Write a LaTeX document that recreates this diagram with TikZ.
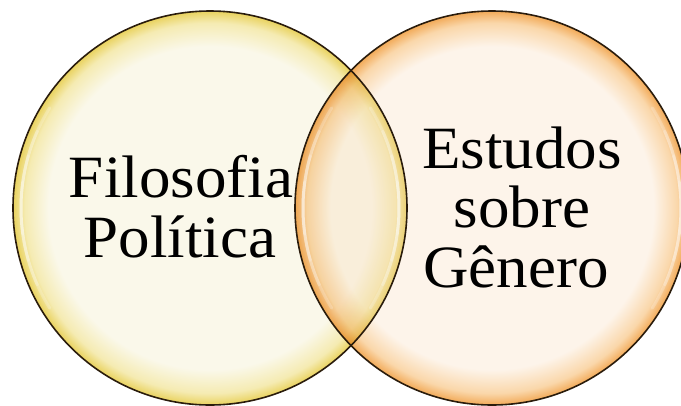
\documentclass[tikz,border=0pt]{standalone}
\usepackage{fontspec}
\setmainfont{Liberation Serif}[FakeStretch=1.05]
\definecolor{lcA}{HTML}{FAF8EA}
\definecolor{lcB}{HTML}{F5EBB2}
\definecolor{lcC}{HTML}{E9D25E}
\definecolor{rcA}{HTML}{FDF4EA}
\definecolor{rcB}{HTML}{FAD7AA}
\definecolor{rcC}{HTML}{F2AA58}
\definecolor{edgecol}{HTML}{2A1C0C}
\pgfdeclareradialshading{leftball}{\pgfpoint{0bp}{0bp}}{color(0bp)=(lcA); color(20.5bp)=(lcA); color(23.5bp)=(lcB); color(25bp)=(lcC); color(50bp)=(lcC)}
\pgfdeclareradialshading{rightball}{\pgfpoint{0bp}{0bp}}{color(0bp)=(rcA); color(20.5bp)=(rcA); color(23.5bp)=(rcB); color(25bp)=(rcC); color(50bp)=(rcC)}
\begin{document}
\begin{tikzpicture}[x=1pt,y=-1pt,
  ring/.style={draw=edgecol, line width=1.6pt},
  shine/.style={draw=white, line width=3pt, draw opacity=0.22, line cap=round},
  lbl/.style={font=\fontsize{60}{60}\selectfont, anchor=base, inner sep=0pt}]
\useasboundingbox (0,0) rectangle (681,405);
\coordinate (cl) at (210,208);
\coordinate (cr) at (492,208);
\shade[shading=leftball] (cl) circle[radius=197];
\shade[shading=rightball] (cr) circle[radius=197];
\begin{scope}
\clip (cr) circle[radius=197];
\shade[shading=leftball, blend mode=multiply, fill opacity=0.8] (cl) circle[radius=197];
\end{scope}
% soft highlights
\foreach \s in {32,24,16,8} {
  \draw[shine] ([shift={(cl)}]180-\s:189) arc[start angle=180-\s, end angle=180+\s, radius=189];
  \draw[shine] ([shift={(cl)}]-\s:189) arc[start angle=-\s, end angle=\s, radius=189];
  \draw[shine] ([shift={(cr)}]180-\s:189) arc[start angle=180-\s, end angle=180+\s, radius=189];
  \draw[shine] ([shift={(cr)}]-\s:189) arc[start angle=-\s, end angle=\s, radius=189];
}
\draw[ring] (cl) circle[radius=197];
\draw[ring] (cr) circle[radius=197];
\node[lbl] (f1) at (181,197) {Filosofia};
\node[lbl] (f2) at (180,257) {Política};
\node[lbl] (e1) at (522,168) {Estudos};
\node[lbl] (e2) at (522,227) {sobre};
\node[lbl] (e3) at (516,287) {Gênero};
\end{tikzpicture}
\end{document}
